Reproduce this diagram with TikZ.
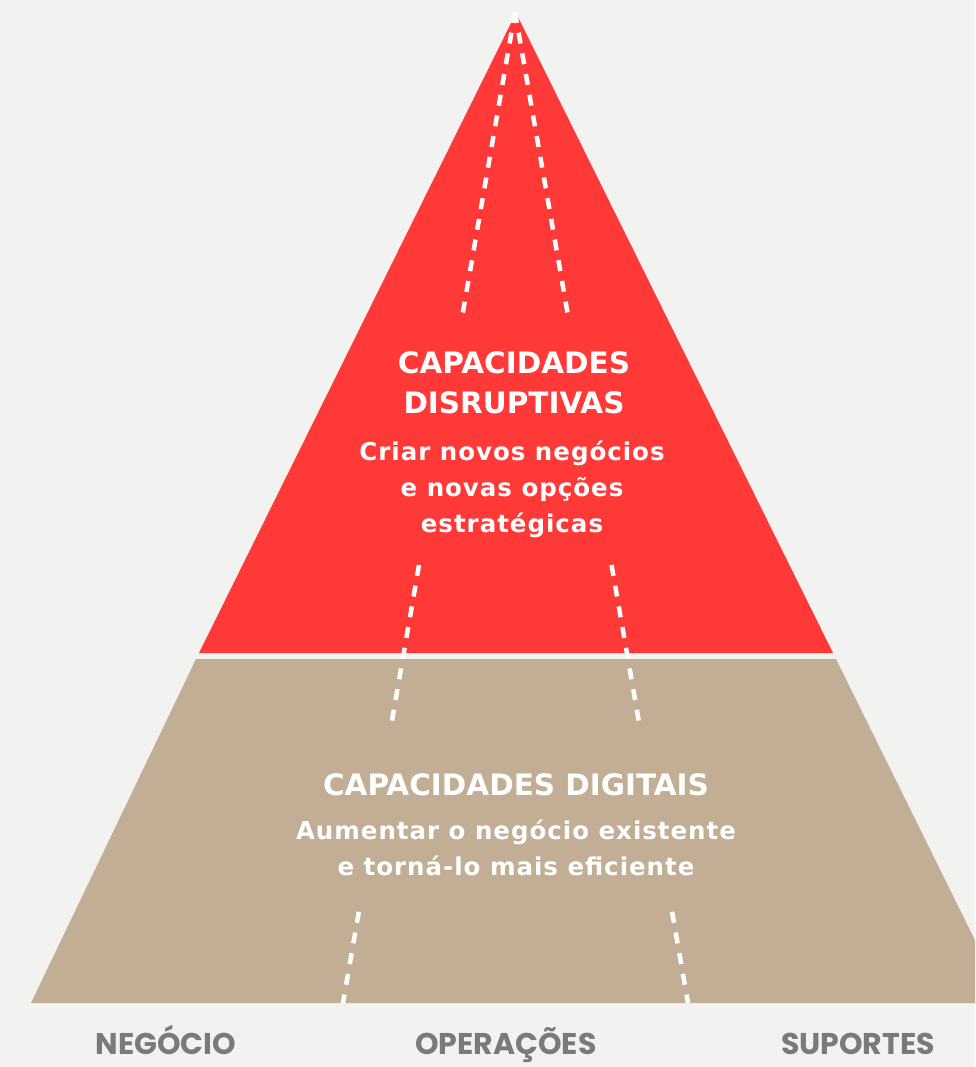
\documentclass[tikz,border=0pt]{standalone}
\usepackage{fontspec}
\setmainfont{DejaVu Sans}
\newfontfamily\bodyfont{DejaVu Sans}[LetterSpace=4]
\newfontfamily\labelfont{Poppins}
\usetikzlibrary{calc,positioning}
\definecolor{paper}{HTML}{F2F2F1}
\definecolor{topred}{HTML}{FF3838}
\definecolor{sand}{HTML}{C2AE95}
\definecolor{labelgray}{HTML}{7A7A7A}

\begin{document}
\begin{tikzpicture}
[x=1pt,y=-1pt,
      title/.style={text=white,font=\fontsize{29.5}{40}\selectfont\bfseries,
      align=center,inner sep=0pt,anchor=base},
      sub/.style={text=white,font=\bodyfont\fontsize{24.5}{36}\selectfont\bfseries,
      align=center,inner sep=0pt,anchor=base},
      column/.style={text=labelgray,font=\labelfont\fontsize{30}{34}\selectfont\bfseries,
      inner sep=0pt,anchor=base},
      guide/.style={white,line width=4.5pt,dash pattern=on 11pt off 10pt}]
 \fill[paper] (0,0) rectangle (975,1067);
 \clip (0,0) rectangle (975,1067);
 % pyramid layers
 \fill[topred] (516,13) -- (833,653) -- (199,653) -- cycle;
 \fill[sand] (196,659) -- (836,659) -- (1006,1003) -- (31,1003) -- cycle;
 % dashed guides
 \coordinate (apex) at (515,12);
 \coordinate (lfoot) at (343,1003);
 \coordinate (rfoot) at (688,1003);
 \coordinate (l1) at ($(apex)!.304!(lfoot)$);
 \coordinate (l2) at ($(apex)!.558!(lfoot)$);
 \coordinate (l3) at ($(apex)!.715!(lfoot)$);
 \coordinate (l4) at ($(apex)!.908!(lfoot)$);
 \coordinate (r1) at ($(apex)!.304!(rfoot)$);
 \coordinate (r2) at ($(apex)!.558!(rfoot)$);
 \coordinate (r3) at ($(apex)!.715!(rfoot)$);
 \coordinate (r4) at ($(apex)!.908!(rfoot)$);
 \draw[guide] (apex) -- (l1);
 \draw[guide] (l2) -- (l3);
 \draw[guide] (l4) -- (lfoot);
 \draw[guide] (apex) -- (r1);
 \draw[guide] (r2) -- (r3);
 \draw[guide] (r4) -- (rfoot);
 % texts
 \node[title] (disrupt) at (514,413) {CAPACIDADES\\DISRUPTIVAS};
 \node[sub] (create) at (512,532) {Criar novos negócios\\e novas opções\\estratégicas};
 \node[title] (digital) at (516,795) {CAPACIDADES DIGITAIS};
 \node[sub] (grow) at (516,875) {Aumentar o negócio existente\\e torná-lo mais eficiente};
 \node[column] (business) at (166,1054) {NEGÓCIO};
 \node[column] (operations) at (506,1054) {OPERAÇÕES};
 \node[column] (support) at (858,1054) {SUPORTES};
\end{tikzpicture}
\end{document}
